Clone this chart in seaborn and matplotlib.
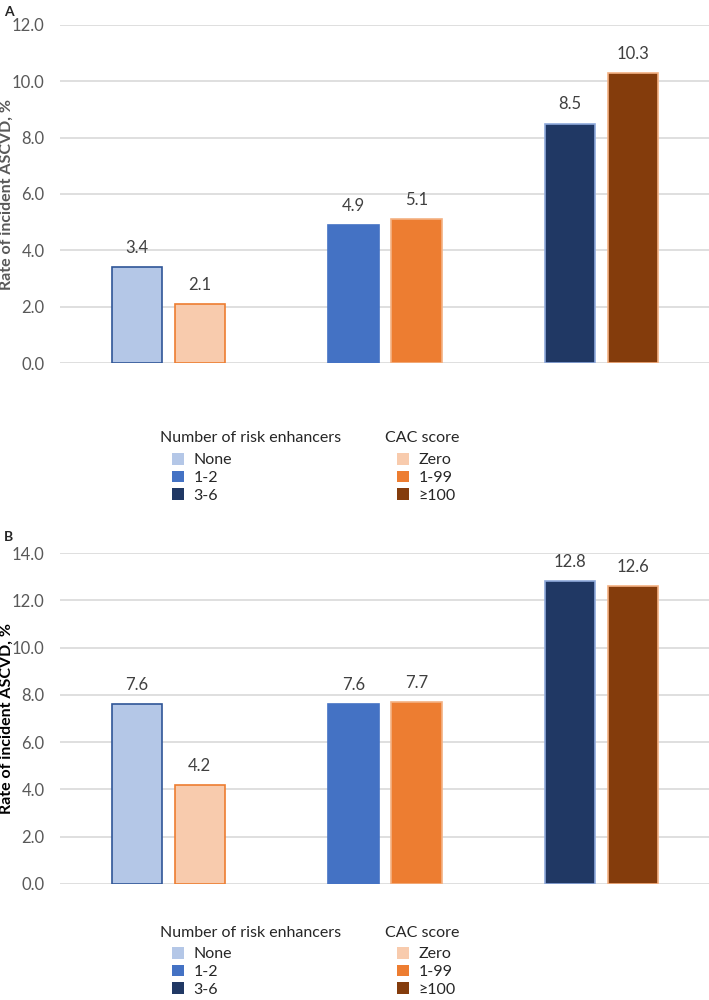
import numpy as np
import pandas as pd
import matplotlib.pyplot as plt
import seaborn as sns
from matplotlib.patches import Patch

# values
groups = ["g1", "g2", "g3"]
risk_labels = ["None", "1-2", "3-6"]
cac_labels = ["Zero", "1-99", "\u2265100"]
risk_a = [3.4, 4.9, 8.5]
cac_a = [2.1, 5.1, 10.3]
risk_b = [7.6, 7.6, 12.8]
cac_b = [4.2, 7.7, 12.6]

risk_fill = ["#B4C7E7", "#4472C4", "#203864"]
risk_edge = ["#2F5597", "#4472C4", "#8FAADC"]
cac_fill = ["#F8CBAD", "#ED7D31", "#843C0C"]
cac_edge = ["#ED7D31", "#F4B183", "#F4B183"]

sns.set_style("white")
plt.rcParams["font.family"] = ["Lato", "DejaVu Sans"]

fig = plt.figure(figsize=(7.09, 10), dpi=100)


def panel(rect, risk, cac, ymax, label_color):
    ax = fig.add_axes(rect)
    df = pd.DataFrame({
        "group": groups * 2,
        "rate": risk + cac,
        "measure": ["risk"] * 3 + ["cac"] * 3,
    })
    sns.barplot(data=df, x="group", y="rate", hue="measure", hue_order=["risk", "cac"],
                width=0.58, gap=0.2, errorbar=None, legend=False, ax=ax)
    fills = risk_fill + cac_fill
    edges = risk_edge + cac_edge
    for p, fc, ec in zip(ax.patches, fills, edges):
        p.set_facecolor(fc)
        p.set_edgecolor(ec)
        p.set_linewidth(1.2)
    for c in ax.containers:
        ax.bar_label(c, fmt="%.1f", padding=8, fontsize=12, color="#404040")
    ax.set_xlim(-0.5, 2.5)
    ax.set_ylim(0, ymax)
    ticks = np.arange(0, ymax + 0.1, 2)
    ax.set_yticks(ticks)
    ax.set_yticklabels([f"{v:.1f}" for v in ticks])
    ax.tick_params(axis="y", labelsize=12, labelcolor="#595959", length=0, pad=11)
    ax.set_xticks([])
    ax.set_xlabel("")
    ax.set_ylabel("Rate of incident ASCVD, %", fontsize=11.5, fontweight="bold",
                  color=label_color)
    ax.yaxis.set_label_coords(-0.071, 0.5)
    ax.yaxis.grid(True, color="#D9D9D9", linewidth=1.2)
    ax.set_axisbelow(True)
    sns.despine(ax=ax, left=True, bottom=True)
    return ax


def legends(y_title, y_top):
    kw = dict(frameon=False, fontsize=11.5, handlelength=0.75, handleheight=0.75,
              handletextpad=0.6, labelspacing=0.2, borderpad=0, borderaxespad=0,
              loc="upper left")
    for x, title, labels, colors in ((160, "Number of risk enhancers", risk_labels, risk_fill),
                                     (385, "CAC score", cac_labels, cac_fill)):
        handles = [Patch(facecolor=c, edgecolor="none") for c in colors]
        leg = fig.legend(handles=handles, labels=labels,
                         bbox_to_anchor=((x + 12) / 709, 1 - y_top / 1000), **kw)
        for t in leg.get_texts():
            t.set_color("#262626")
        fig.text(x / 709, 1 - y_title / 1000, title, fontsize=11.5, color="#262626",
                 va="center", ha="left")


ax_a = panel([60 / 709, 1 - 363 / 1000, 650 / 709, 338 / 1000], risk_a, cac_a, 12, "#595959")
ax_b = panel([60 / 709, 1 - 884 / 1000, 650 / 709, 331 / 1000], risk_b, cac_b, 14, "black")

legends(438, 453)
legends(933, 947)

fig.text(4 / 709, 1 - 12 / 1000, "A", fontsize=10, fontweight="bold", va="center")
fig.text(4 / 709, 1 - 537 / 1000, "B", fontsize=10, fontweight="bold", va="center")

fig.savefig("out.png", dpi=100)
